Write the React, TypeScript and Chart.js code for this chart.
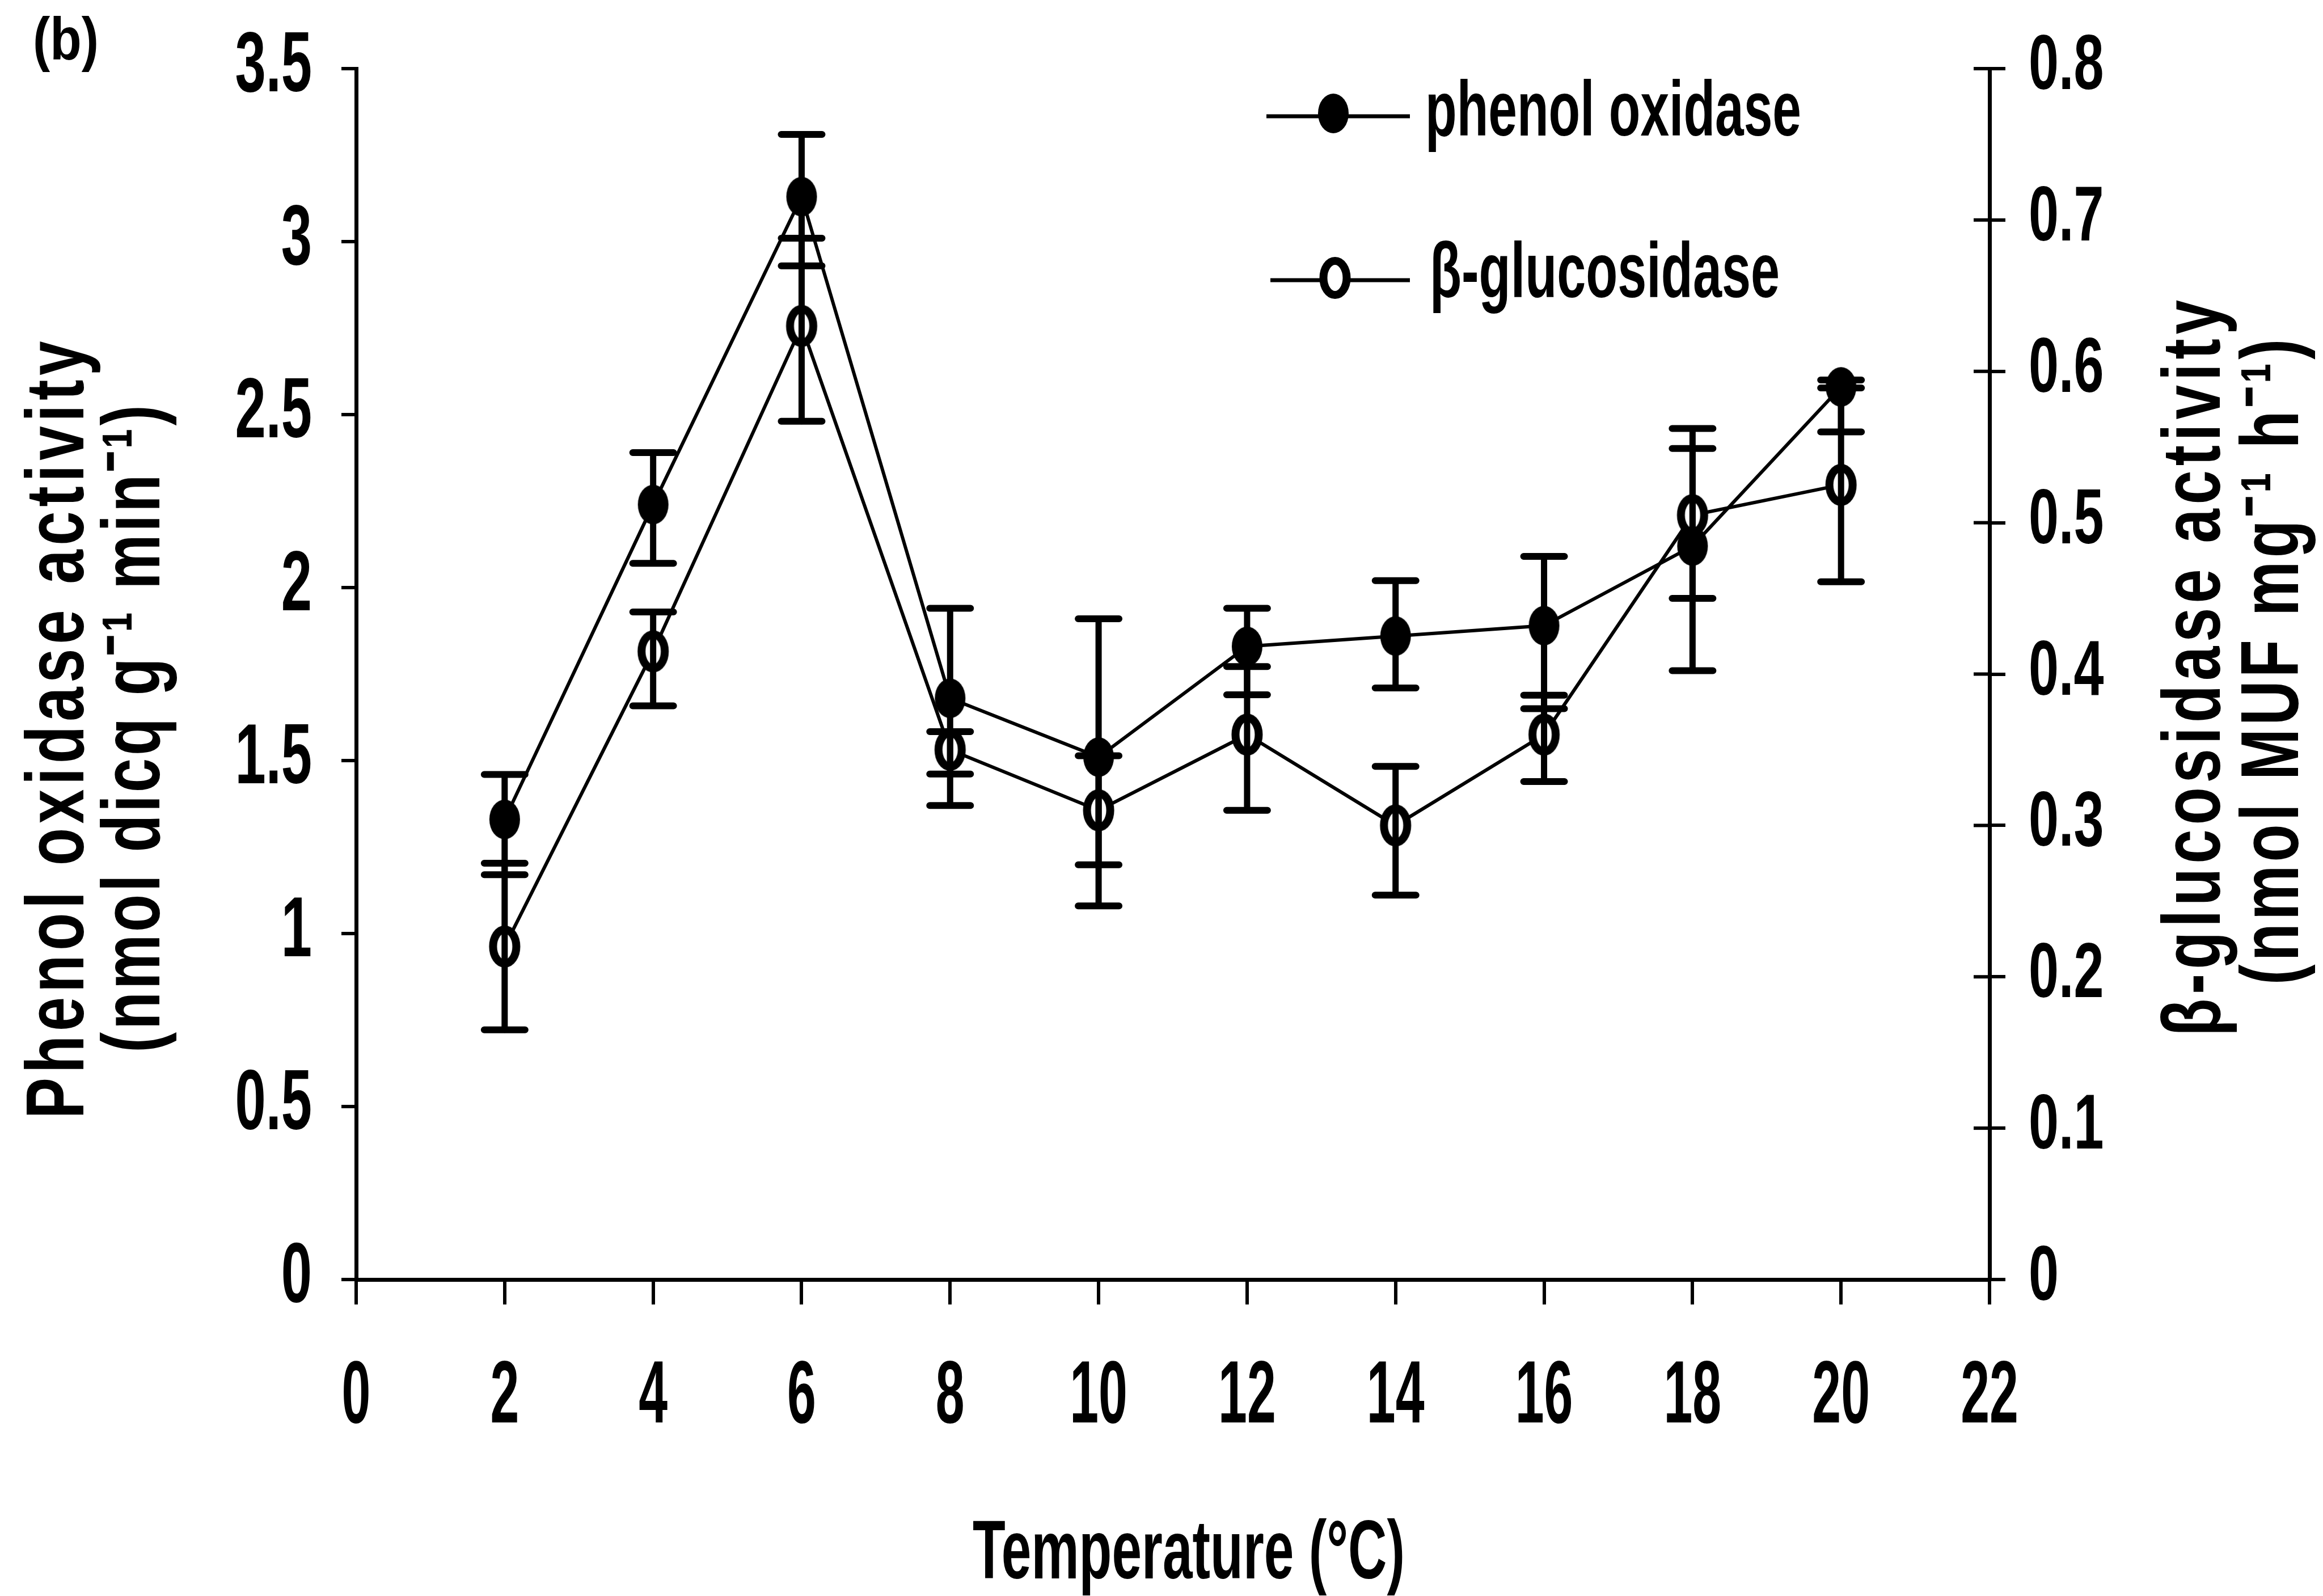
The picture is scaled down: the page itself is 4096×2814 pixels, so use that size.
import React, { useEffect, useRef } from 'react';
import Chart from 'chart.js/auto';

const W = 4096;
const H = 2814;

// ---- data ----
const temperatures = [2, 4, 6, 8, 10, 12, 14, 16, 18, 20];
const phenolOxidase = [1.33, 2.24, 3.13, 1.68, 1.51, 1.83, 1.86, 1.89, 2.12, 2.58];
const phenolErrUp = [0.13, 0.15, 0.18, 0.26, 0.4, 0.11, 0.16, 0.2, 0.34, 0.02];
const phenolErrDown = [0.16, 0.17, 0.2, 0.31, 0.43, 0.14, 0.15, 0.24, 0.36, 0.13];
const betaGlucosidase = [0.22, 0.415, 0.63, 0.35, 0.31, 0.36, 0.3, 0.36, 0.505, 0.525];
const glucErrUp = [0.055, 0.026, 0.058, 0.012, 0.036, 0.045, 0.039, 0.026, 0.044, 0.064];
const glucErrDown = [0.055, 0.036, 0.063, 0.016, 0.036, 0.05, 0.046, 0.031, 0.055, 0.064];

const xTickLabels = ['0', '2', '4', '6', '8', '10', '12', '14', '16', '18', '20', '22'];
const leftTickLabels = ['0', '0.5', '1', '1.5', '2', '2.5', '3', '3.5'];
const rightTickLabels = ['0', '0.1', '0.2', '0.3', '0.4', '0.5', '0.6', '0.7', '0.8'];

const seriesNames = ['phenol oxidase', 'β-glucosidase'];
const xTitle = 'Temperature (°C)';
const leftTitle = ['Phenol oxidase activity', '(nmol dicq g⁻¹ min⁻¹)'];
const rightTitle = ['β-glucosidase activity', '(nmol MUF mg⁻¹ h⁻¹)'];
const panelLabel = '(b)';

const FONT = '"Liberation Sans", Arial, Helvetica, sans-serif';

function makeMarker(filled: boolean): HTMLCanvasElement {
  const c = document.createElement('canvas');
  c.width = 60;
  c.height = 80;
  const g = c.getContext('2d') as CanvasRenderingContext2D;
  g.beginPath();
  if (filled) {
    g.ellipse(30, 40, 27, 35, 0, 0, Math.PI * 2);
    g.fillStyle = '#000';
    g.fill();
  } else {
    g.ellipse(30, 40, 20.5, 30, 0, 0, Math.PI * 2);
    g.fillStyle = '#fff';
    g.fill();
    g.lineWidth = 14;
    g.strokeStyle = '#000';
    g.stroke();
  }
  return c;
}

type TextOpts = {
  x: number;
  y: number;
  size: number;
  bold?: boolean;
  sx?: number;
  width?: number;
  align?: 'left' | 'center' | 'right';
  rotate?: boolean;
};

function drawText(ctx: CanvasRenderingContext2D, text: string, o: TextOpts) {
  ctx.save();
  ctx.font = `${o.bold ? 'bold ' : ''}${o.size}px ${FONT}`;
  ctx.fillStyle = '#000';
  ctx.textBaseline = 'alphabetic';
  ctx.textAlign = 'left';
  const c: any = ctx;
  const hasLS = 'letterSpacing' in c;
  if (hasLS) c.letterSpacing = '0px';
  const w0 = ctx.measureText(text).width;
  let sx = o.sx ?? 1;
  let w = w0;
  if (o.width && !o.sx) {
    sx = o.width / w0;
  } else if (o.width && o.sx) {
    const n = Array.from(text).length;
    const gap = (o.width - w0 * sx) / Math.max(1, n - 1) / sx;
    if (hasLS && gap > 0) {
      c.letterSpacing = `${gap}px`;
      w = w0 + gap * (n - 1);
    } else {
      sx = o.width / w0;
    }
  }
  ctx.translate(o.x, o.y);
  if (o.rotate) ctx.rotate(-Math.PI / 2);
  ctx.scale(sx, 1);
  const align = o.align ?? 'left';
  const start = align === 'center' ? -w / 2 : align === 'right' ? -w : 0;
  ctx.fillText(text, start, 0);
  ctx.restore();
}

export default function App() {
  const ref = useRef<HTMLCanvasElement | null>(null);

  useEffect(() => {
    const canvas = ref.current;
    if (!canvas) return;
    const filledMarker = makeMarker(true);
    const openMarker = makeMarker(false);

    const errorBarPlugin = {
      id: 'errorBars',
      afterDatasetsDraw(chart: any) {
        const ctx = chart.ctx as CanvasRenderingContext2D;
        const sets = [
          { ds: 0, axis: 'y', vals: phenolOxidase, up: phenolErrUp, down: phenolErrDown },
          { ds: 1, axis: 'y2', vals: betaGlucosidase, up: glucErrUp, down: glucErrDown },
        ];
        ctx.save();
        ctx.strokeStyle = '#000';
        ctx.lineCap = 'round';
        for (const s of sets) {
          const meta = chart.getDatasetMeta(s.ds);
          const scale = chart.scales[s.axis];
          meta.data.forEach((pt: any, i: number) => {
            const x = pt.x;
            const yTop = scale.getPixelForValue(s.vals[i] + s.up[i]);
            const yBot = scale.getPixelForValue(s.vals[i] - s.down[i]);
            ctx.lineWidth = 11;
            ctx.beginPath();
            ctx.moveTo(x, yTop);
            ctx.lineTo(x, yBot);
            ctx.stroke();
            ctx.lineWidth = 12;
            ctx.beginPath();
            ctx.moveTo(x - 36, yTop);
            ctx.lineTo(x + 36, yTop);
            ctx.moveTo(x - 36, yBot);
            ctx.lineTo(x + 36, yBot);
            ctx.stroke();
          });
        }
        ctx.restore();
      },
    };

    const textPlugin = {
      id: 'texts',
      afterDraw(chart: any) {
        const ctx = chart.ctx as CanvasRenderingContext2D;
        const area = chart.chartArea;
        const xs = chart.scales.x;
        const ys = chart.scales.y;
        const y2s = chart.scales.y2;

        // inward half of the crossing ticks on the right axis
        ctx.save();
        ctx.strokeStyle = '#000';
        ctx.lineWidth = 6;
        y2s.ticks.forEach((t: any) => {
          const py = y2s.getPixelForValue(t.value);
          ctx.beginPath();
          ctx.moveTo(area.right - 28, py);
          ctx.lineTo(area.right, py);
          ctx.stroke();
        });
        ctx.restore();

        // tick labels
        xs.ticks.forEach((t: any) =>
          drawText(ctx, String(t.label), {
            x: xs.getPixelForValue(t.value),
            y: area.bottom + 252,
            size: 155,
            bold: true,
            sx: 0.59,
            align: 'center',
          })
        );
        ys.ticks.forEach((t: any) =>
          drawText(ctx, String(t.label), {
            x: area.left - 78,
            y: ys.getPixelForValue(t.value) + 40,
            size: 150,
            bold: true,
            sx: 0.65,
            align: 'right',
          })
        );
        y2s.ticks.forEach((t: any) =>
          drawText(ctx, String(t.label), {
            x: area.right + 69,
            y: y2s.getPixelForValue(t.value) + 36,
            size: 138,
            bold: true,
            sx: 0.69,
            align: 'left',
          })
        );

        // axis titles
        drawText(ctx, xTitle, { x: 2096, y: 2783, size: 147, bold: true, width: 762, align: 'center' });
        drawText(ctx, leftTitle[0], { x: 147, y: 1287, size: 145, bold: true, sx: 0.75, width: 1371, align: 'center', rotate: true });
        drawText(ctx, leftTitle[1], { x: 281, y: 1285, size: 145, bold: true, sx: 0.75, width: 1142, align: 'center', rotate: true });
        drawText(ctx, rightTitle[0], { x: 3914, y: 1178, size: 145, bold: true, sx: 0.75, width: 1298, align: 'center', rotate: true });
        drawText(ctx, rightTitle[1], { x: 4052, y: 1167, size: 145, bold: true, sx: 0.75, width: 1139, align: 'center', rotate: true });

        // legend
        const rows = [
          { x1: 2233, x2: 2486, ly: 205, mx: 2351, my: 200, img: filledMarker, tx: 2513, ty: 239, tw: 663 },
          { x1: 2240, x2: 2486, ly: 494, mx: 2354, my: 490, img: openMarker, tx: 2521, ty: 524, tw: 617 },
        ];
        rows.forEach((r, i) => {
          ctx.save();
          ctx.strokeStyle = '#000';
          ctx.lineWidth = 7;
          ctx.beginPath();
          ctx.moveTo(r.x1, r.ly);
          ctx.lineTo(r.x2, r.ly);
          ctx.stroke();
          ctx.drawImage(r.img, r.mx - r.img.width / 2, r.my - r.img.height / 2);
          ctx.restore();
          drawText(ctx, seriesNames[i], { x: r.tx, y: r.ty, size: 138, bold: true, width: r.tw, align: 'left' });
        });

        // panel label
        drawText(ctx, panelLabel, { x: 58, y: 105, size: 105, bold: true, width: 116, align: 'left' });
      },
    };

    const axisCommon = {
      type: 'linear' as const,
      ticks: { display: false, callback: (v: any) => String(v) },
      border: { display: true, color: '#000', width: 7 },
    };

    const chart = new Chart(canvas, {
      type: 'line',
      data: {
        datasets: [
          {
            label: seriesNames[0],
            data: temperatures.map((t, i) => ({ x: t, y: phenolOxidase[i] })),
            yAxisID: 'y',
            borderColor: '#000',
            backgroundColor: '#000',
            borderWidth: 6,
            pointStyle: filledMarker as any,
            pointRadius: 30,
            pointHoverRadius: 30,
            tension: 0,
            fill: false,
          },
          {
            label: seriesNames[1],
            data: temperatures.map((t, i) => ({ x: t, y: betaGlucosidase[i] })),
            yAxisID: 'y2',
            borderColor: '#000',
            backgroundColor: '#fff',
            borderWidth: 6,
            pointStyle: openMarker as any,
            pointRadius: 30,
            pointHoverRadius: 30,
            tension: 0,
            fill: false,
          },
        ],
      },
      options: {
        responsive: false,
        maintainAspectRatio: false,
        animation: false,
        devicePixelRatio: 1,
        events: [],
        layout: { padding: { top: 121, left: 0, right: 0, bottom: 0 } },
        plugins: {
          legend: { display: false },
          tooltip: { enabled: false },
          title: { display: false },
        },
        scales: {
          x: {
            ...axisCommon,
            position: 'bottom',
            min: 0,
            max: 22,
            grid: { drawOnChartArea: false, drawTicks: true, tickLength: 44, color: '#000', lineWidth: 6 },
            afterBuildTicks: (s: any) => {
              s.ticks = xTickLabels.map((l) => ({ value: parseFloat(l) }));
            },
            afterFit: (s: any) => {
              s.height = H - 2256;
            },
          },
          y: {
            ...axisCommon,
            position: 'left',
            min: 0,
            max: 3.5,
            grid: { drawOnChartArea: false, drawTicks: true, tickLength: 26, color: '#000', lineWidth: 6 },
            afterBuildTicks: (s: any) => {
              s.ticks = leftTickLabels.map((l) => ({ value: parseFloat(l) }));
            },
            afterFit: (s: any) => {
              s.width = 628;
            },
          },
          y2: {
            ...axisCommon,
            position: 'right',
            min: 0,
            max: 0.8,
            grid: { drawOnChartArea: false, drawTicks: true, tickLength: 28, color: '#000', lineWidth: 6 },
            afterBuildTicks: (s: any) => {
              s.ticks = rightTickLabels.map((l) => ({ value: parseFloat(l) }));
            },
            afterFit: (s: any) => {
              s.width = W - 3508;
            },
          },
        },
      } as any,
      plugins: [errorBarPlugin, textPlugin],
    });

    return () => chart.destroy();
  }, []);

  return (
    <div style={{ position: 'fixed', left: 0, top: 0, width: W, height: H, background: '#fff' }}>
      <canvas ref={ref} width={W} height={H} style={{ display: 'block', width: W, height: H }} />
    </div>
  );
}
